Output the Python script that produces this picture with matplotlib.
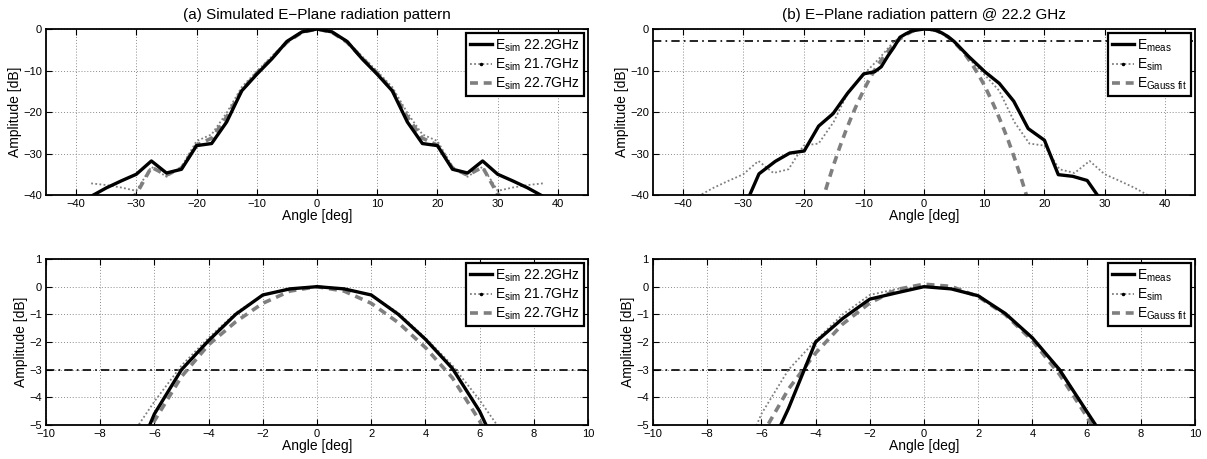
import matplotlib
matplotlib.use('Agg')
import matplotlib.pyplot as plt
from matplotlib.lines import Line2D

plt.rcParams['font.family'] = ['Liberation Sans', 'DejaVu Sans']
plt.rcParams['mathtext.fontset'] = 'custom'
plt.rcParams['mathtext.rm'] = 'Liberation Sans'
plt.rcParams['mathtext.it'] = 'Liberation Sans'
plt.rcParams['mathtext.default'] = 'regular'
plt.rcParams['axes.unicode_minus'] = True

# ---------------- data ----------------
# (a) wide simulated patterns, 2.5 deg steps
ang_wide = [-37.5, -35, -32.5, -30, -27.5, -25, -22.5, -20, -17.5, -15, -12.5, -10, -7.5, -5, -2.5,
            0, 2.5, 5, 7.5, 10, 12.5, 15, 17.5, 20, 22.5, 25, 27.5, 30, 32.5, 35, 37.5]
sim_222_wide = [-40.3, -38.3, -36.6, -35.0, -31.8, -34.7, -33.8, -28.1, -27.6, -22.4, -14.9, -10.9, -7.2, -3.0, -0.7,
                0.0, -0.7, -3.0, -7.2, -10.9, -14.9, -22.4, -27.6, -28.1, -33.8, -34.7, -31.8, -35.0, -36.6, -38.3, -40.3]
sim_217_wide = [-37.2, -37.6, -38.2, -39.0, -33.2, -35.6, -33.2, -27.0, -25.4, -20.2, -14.0, -10.2, -6.6, -2.9, -0.6,
                0.0, -0.6, -2.9, -6.6, -10.2, -14.0, -20.2, -25.4, -27.0, -33.2, -35.6, -33.2, -39.0, -38.2, -37.6, -37.2]
sim_227_wide = [-44.0, -43.0, -42.0, -39.8, -33.3, -35.2, -33.5, -28.0, -26.3, -21.2, -14.8, -10.6, -7.0, -3.2, -0.8,
                0.0, -0.8, -3.2, -7.0, -10.6, -14.8, -21.2, -26.3, -28.0, -33.5, -35.2, -33.3, -39.8, -42.0, -43.0, -44.0]

# zoomed simulated patterns, 1 deg steps
ang_zoom = [-7, -6, -5, -4, -3, -2, -1, 0, 1, 2, 3, 4, 5, 6, 7]
sim_222_zoom = [-6.9, -4.6, -3.0, -1.95, -1.0, -0.3, -0.08, 0.0, -0.08, -0.3, -1.0, -1.9, -2.96, -4.5, -6.6]
sim_217_zoom = [-5.6, -4.15, -2.85, -1.85, -0.95, -0.3, -0.07, 0.0, -0.07, -0.3, -0.95, -1.85, -2.85, -4.1, -5.5]
sim_227_zoom = [-7.0, -4.85, -3.25, -2.1, -1.27, -0.6, -0.16, 0.0, -0.16, -0.6, -1.3, -2.2, -3.3, -4.85, -7.0]

# (b) measured pattern @ 22.2 GHz
ang_meas = [-30, -27.4, -24.7, -22.3, -19.9, -17.5, -15.1, -12.7, -10.0, -8.2, -7.1, -6, -5, -4, -3, -2, -1,
            0, 1, 2, 3, 4, 5, 6, 7.4, 10.1, 12.5, 14.9, 17.3, 20.0, 22.3, 24.7, 27.1, 29.5]
meas = [-43.5, -34.9, -31.9, -29.9, -29.4, -23.4, -20.4, -15.5, -10.8, -10.3, -9.1, -6.5, -4.4, -2.0, -1.15, -0.45, -0.22,
        0.0, -0.08, -0.33, -0.97, -1.85, -3.0, -4.5, -6.6, -10.3, -13.1, -17.4, -24.0, -26.8, -35.1, -35.5, -36.5, -41.5]

# (b) Gaussian fit
ang_gauss = [-17, -16, -15, -14, -13, -12, -11, -10, -9, -8, -7, -6, -5, -4, -3, -2, -1,
             0, 1, 2, 3, 4, 5, 6, 7, 8, 9, 10, 11, 12, 13, 14, 15, 16, 17, 18]
gauss = [-41.9, -37.2, -32.7, -28.5, -24.6, -21.0, -17.7, -14.7, -11.9, -9.4, -7.3, -5.4, -3.7, -2.4, -1.35, -0.59, -0.10,
         0.09, 0.01, -0.36, -1.01, -1.95, -3.17, -4.68, -6.47, -8.54, -10.9, -13.5, -16.5, -19.7, -23.2, -26.9, -31.0,
         -35.3, -40.0, -45.0]

hp_level = -3.0
wide_xticks = [-40, -30, -20, -10, 0, 10, 20, 30, 40]
wide_yticks = [-40, -30, -20, -10, 0]
zoom_xticks = [-10, -8, -6, -4, -2, 0, 2, 4, 6, 8, 10]
zoom_yticks = [-5, -4, -3, -2, -1, 0, 1]

labels_a = [r'$E_{sim}$ 22.2GHz', r'$E_{sim}$ 21.7GHz', r'$E_{sim}$ 22.7GHz']
labels_b = [r'$E_{meas}$', r'$E_{sim}$', r'$E_{Gauss\ fit}$']

# ---------------- styles ----------------
GREY = '#7f7f7f'
sty_solid = dict(color='black', lw=2.4, ls='-')
sty_dot = dict(color=GREY, lw=1.3, ls=(0, (1, 1.3)))
sty_dash = dict(color=GREY, lw=2.6, ls=(0, (2.2, 1.6)))

fig = plt.figure(figsize=(12.07, 4.59), dpi=100)
W, H = 1207.0, 459.0
ax_a1 = fig.add_axes([46 / W, 1 - 195 / H, 542 / W, 166 / H])
ax_b1 = fig.add_axes([653 / W, 1 - 195 / H, 542 / W, 166 / H])
ax_a2 = fig.add_axes([46 / W, 1 - 425 / H, 542 / W, 166 / H])
ax_b2 = fig.add_axes([653 / W, 1 - 425 / H, 542 / W, 166 / H])


def style(ax, xlim, ylim, xt, yt):
    ax.set_xlim(*xlim)
    ax.set_ylim(*ylim)
    ax.set_xticks(xt)
    ax.set_yticks(yt)
    ax.grid(True, ls=(0, (1, 2)), color='#8c8c8c', lw=0.7)
    ax.set_axisbelow(True)
    ax.tick_params(direction='in', top=True, right=True, length=4, width=0.8,
                   labelsize=8, pad=3, colors='black')
    for s in ax.spines.values():
        s.set_linewidth(1.3)
        s.set_color('black')
    ax.set_xlabel('Angle [deg]', fontsize=10, labelpad=0)
    ax.set_ylabel('Amplitude [dB]', fontsize=10, labelpad=1)


def legend(ax, labels):
    handles = [Line2D([], [], **sty_solid),
               Line2D([], [], marker='.', ms=3, mfc='black', mec='black', **sty_dot),
               Line2D([], [], **sty_dash)]
    leg = ax.legend(handles, labels, loc='upper right', fontsize=10, fancybox=False,
                    framealpha=1, edgecolor='black', borderaxespad=0.3, handlelength=1.6,
                    handletextpad=0.2, labelspacing=0.2, borderpad=0.3)
    leg.get_frame().set_linewidth(1.6)


# (a) wide
ax_a1.plot(ang_wide, sim_217_wide, **sty_dot)
ax_a1.plot(ang_wide, sim_227_wide, **sty_dash)
ax_a1.plot(ang_wide, sim_222_wide, **sty_solid)
style(ax_a1, (-45, 45), (-40, 0), wide_xticks, wide_yticks)
legend(ax_a1, labels_a)
ax_a1.set_title('(a) Simulated E\u2212Plane radiation pattern', fontsize=11, pad=7)

# (b) wide
ax_b1.axhline(hp_level, color='black', lw=1.2, ls=(0, (5, 2.5, 1, 2.5)))
ax_b1.plot(ang_wide, sim_222_wide, **sty_dot)
ax_b1.plot(ang_gauss, gauss, **sty_dash)
ax_b1.plot(ang_meas, meas, **sty_solid)
style(ax_b1, (-45, 45), (-40, 0), wide_xticks, wide_yticks)
legend(ax_b1, labels_b)
ax_b1.set_title('(b) E\u2212Plane radiation pattern @ 22.2 GHz', fontsize=11, pad=7)

# (a) zoom
ax_a2.axhline(hp_level, color='black', lw=1.2, ls=(0, (5, 2.5, 1, 2.5)))
ax_a2.plot(ang_zoom, sim_217_zoom, **sty_dot)
ax_a2.plot(ang_zoom, sim_227_zoom, **sty_dash)
ax_a2.plot(ang_zoom, sim_222_zoom, **sty_solid)
style(ax_a2, (-10, 10), (-5, 1), zoom_xticks, zoom_yticks)
legend(ax_a2, labels_a)

# (b) zoom
ax_b2.axhline(hp_level, color='black', lw=1.2, ls=(0, (5, 2.5, 1, 2.5)))
ax_b2.plot(ang_zoom, sim_222_zoom, **sty_dot)
ax_b2.plot(ang_gauss, gauss, **sty_dash)
ax_b2.plot(ang_meas, meas, **sty_solid)
style(ax_b2, (-10, 10), (-5, 1), zoom_xticks, zoom_yticks)
legend(ax_b2, labels_b)

fig.savefig('out.png', dpi=100)
